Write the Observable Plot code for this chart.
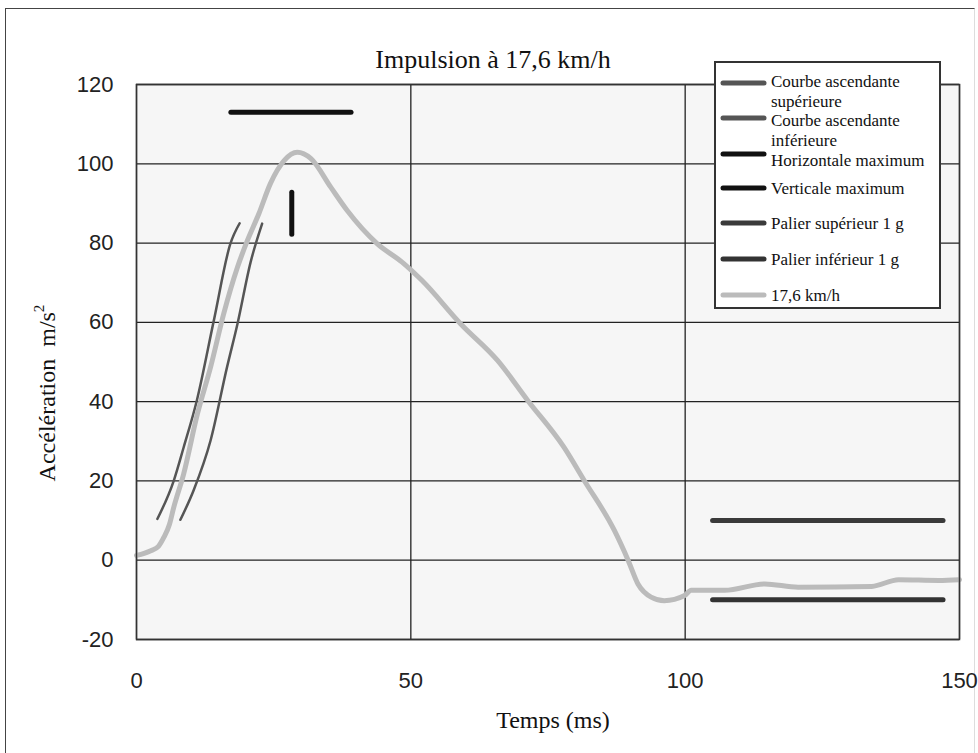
<!DOCTYPE html>
<html>
<head>
<meta charset="utf-8">
<script src="https://cdn.jsdelivr.net/npm/d3@7"></script>
<script src="https://cdn.jsdelivr.net/npm/@observablehq/plot@0.6"></script>
<style>
  html, body { margin: 0; padding: 0; background: #fff; }
  #wrap { position: relative; width: 978px; height: 753px; overflow: hidden; }
  #outer { position: absolute; left: 5px; top: 8px; width: 970px; height: 760px; border: 1.5px solid #444; border-right-color: #ddd; box-sizing: border-box; }
  #chart { position: absolute; left: 0; top: 0; }
  #overlay { position: absolute; left: 0; top: 0; pointer-events: none; }
</style>
</head>
<body>
<div id="wrap">
  <div id="outer"></div>
  <div id="chart"></div>
  <svg id="overlay" width="978" height="753"></svg>
</div>
<script>
// ---- Data ----
const title = "Impulsion à 17,6 km/h";
const xLabel = "Temps (ms)";
const yLabel = "Accélération\u00a0 m/s";
const xTicks = [0, 50, 100, 150];
const yTicks = [-20, 0, 20, 40, 60, 80, 100, 120];

// 17,6 km/h measured pulse
const pulseT = [0, 2.6, 4, 5, 6, 6.8, 8.6, 11.1, 13.5, 15.9, 18.4, 20.2, 22.3, 24.4, 26.9, 29.3, 31.8, 35.4, 38.4, 43.9, 48.4, 52, 59.1, 65.8, 71.3, 77.9, 81.6, 87.1, 89.6, 91.4, 93.8, 96.2, 99.9, 101.1, 107.2, 114.5, 120.6, 134, 138.9, 146.2, 150];
const pulseV = [1.2, 2.4, 3.5, 5.8, 9, 13.4, 21.8, 36.9, 48.7, 62.2, 73.9, 80.6, 87.4, 95, 100.8, 102.9, 101.3, 94.1, 88.2, 79.8, 75.2, 70.6, 59.6, 50.4, 40.3, 28.5, 20.1, 7.5, 0, -6, -9.3, -10.2, -8.9, -7.6, -7.6, -6.0, -6.8, -6.6, -4.9, -5.1, -4.9];

// Courbe ascendante supérieure
const upperT = [3.8, 6.8, 8.6, 11.0, 14.1, 17.1, 18.8];
const upperV = [10.4, 20.1, 28.5, 40.3, 60.5, 79.8, 85.0];
// Courbe ascendante inférieure
const lowerT = [8.0, 10.4, 13.5, 16.5, 18.4, 20.8, 22.9];
const lowerV = [10.2, 17.6, 30.2, 48.7, 59.6, 75.2, 84.9];
// Horizontale maximum
const horizT = [17.2, 39.1];
const horizV = [113, 113];
// Verticale maximum
const vertT = [28.3, 28.3];
const vertV = [82.2, 92.8];
// Paliers 1 g
const palierT = [105, 147];
const palierSupV = [10, 10];
const palierInfV = [-10, -10];

const seriesNames = [
  ["Courbe ascendante", "supérieure"],
  ["Courbe ascendante", "inférieure"],
  ["Horizontale maximum"],
  ["Verticale maximum"],
  ["Palier supérieur 1 g"],
  ["Palier inférieur 1 g"],
  ["17,6 km/h"]
];
const seriesColors = ["#555555", "#555555", "#111111", "#111111", "#3a3a3a", "#333333", "#bbbbbb"];

const toRows = (ts, vs) => ts.map((t, i) => ({t, v: vs[i]}));

const chart = Plot.plot({
  width: 978,
  height: 753,
  marginLeft: 136,
  marginRight: 19,
  marginTop: 84,
  marginBottom: 114,
  style: {background: "transparent", fontFamily: "'Liberation Sans', Arial, sans-serif", color: "#222"},
  x: {domain: [0, 150]},
  y: {domain: [-20, 120]},
  marks: [
    Plot.frame({fill: "#f6f6f6", stroke: null}),
    Plot.gridX(xTicks, {stroke: "#222", strokeOpacity: 1, strokeWidth: 1.3}),
    Plot.gridY(yTicks, {stroke: "#222", strokeOpacity: 1, strokeWidth: 1.3}),
    Plot.axisX({ticks: xTicks, tickSize: 0, tickPadding: 33, fontSize: 22, label: null, tickFormat: d => String(d)}),
    Plot.axisY({ticks: yTicks, tickSize: 0, tickPadding: 23, fontSize: 22, label: null, tickFormat: d => String(d)}),
    Plot.line(toRows(upperT, upperV), {x: "t", y: "v", stroke: seriesColors[0], strokeWidth: 2.5, curve: "monotone-x"}),
    Plot.line(toRows(lowerT, lowerV), {x: "t", y: "v", stroke: seriesColors[1], strokeWidth: 2.5, curve: "monotone-x"}),
    Plot.line(toRows(horizT, horizV), {x: "t", y: "v", stroke: seriesColors[2], strokeWidth: 5, strokeLinecap: "round"}),
    Plot.line(toRows(vertT, vertV), {x: "t", y: "v", stroke: seriesColors[3], strokeWidth: 5, strokeLinecap: "round"}),
    Plot.line(toRows(palierT, palierSupV), {x: "t", y: "v", stroke: seriesColors[4], strokeWidth: 5, strokeLinecap: "round"}),
    Plot.line(toRows(palierT, palierInfV), {x: "t", y: "v", stroke: seriesColors[5], strokeWidth: 5, strokeLinecap: "round"}),
    Plot.line(toRows(pulseT, pulseV), {x: "t", y: "v", stroke: seriesColors[6], strokeWidth: 5, curve: "monotone-x"}),
    Plot.frame({stroke: "#333", strokeWidth: 1.5})
  ]
});
document.getElementById("chart").appendChild(chart);

// ---- Overlay: title, axis labels, legend ----
const ov = d3.select("#overlay");
const serif = "'Liberation Serif', 'Times New Roman', serif";

ov.append("text").attr("x", 493).attr("y", 59).attr("text-anchor", "middle")
  .attr("dominant-baseline", "central").attr("font-family", serif).attr("font-size", 26)
  .attr("fill", "#111").text(title);

ov.append("text").attr("x", 553).attr("y", 720).attr("text-anchor", "middle")
  .attr("dominant-baseline", "central").attr("font-family", serif).attr("font-size", 24)
  .attr("fill", "#111").text(xLabel);

const yl = ov.append("text").attr("transform", "translate(47,393) rotate(-90)")
  .attr("text-anchor", "middle").attr("dominant-baseline", "central")
  .attr("font-family", serif).attr("font-size", 24).attr("fill", "#111");
yl.append("tspan").text(yLabel);
yl.append("tspan").attr("font-size", 15).attr("dy", -8).text("2");

// legend box
const lg = ov.append("g");
lg.append("rect").attr("x", 715).attr("y", 62).attr("width", 225).attr("height", 246)
  .attr("fill", "#fff").attr("stroke", "#333").attr("stroke-width", 2);
const sampleY = [83, 118, 154, 188, 223, 259, 295];
const textY = [[81, 101], [120, 140], [160], [188], [223], [259], [295]];
seriesNames.forEach((lines, i) => {
  lg.append("line").attr("x1", 723).attr("x2", 764).attr("y1", sampleY[i]).attr("y2", sampleY[i])
    .attr("stroke", seriesColors[i]).attr("stroke-width", 5).attr("stroke-linecap", "round");
  lines.forEach((s, j) => {
    lg.append("text").attr("x", 771).attr("y", textY[i][j]).attr("dominant-baseline", "central")
      .attr("font-family", serif).attr("font-size", 17).attr("fill", "#111").text(s);
  });
});
</script>
</body>
</html>
